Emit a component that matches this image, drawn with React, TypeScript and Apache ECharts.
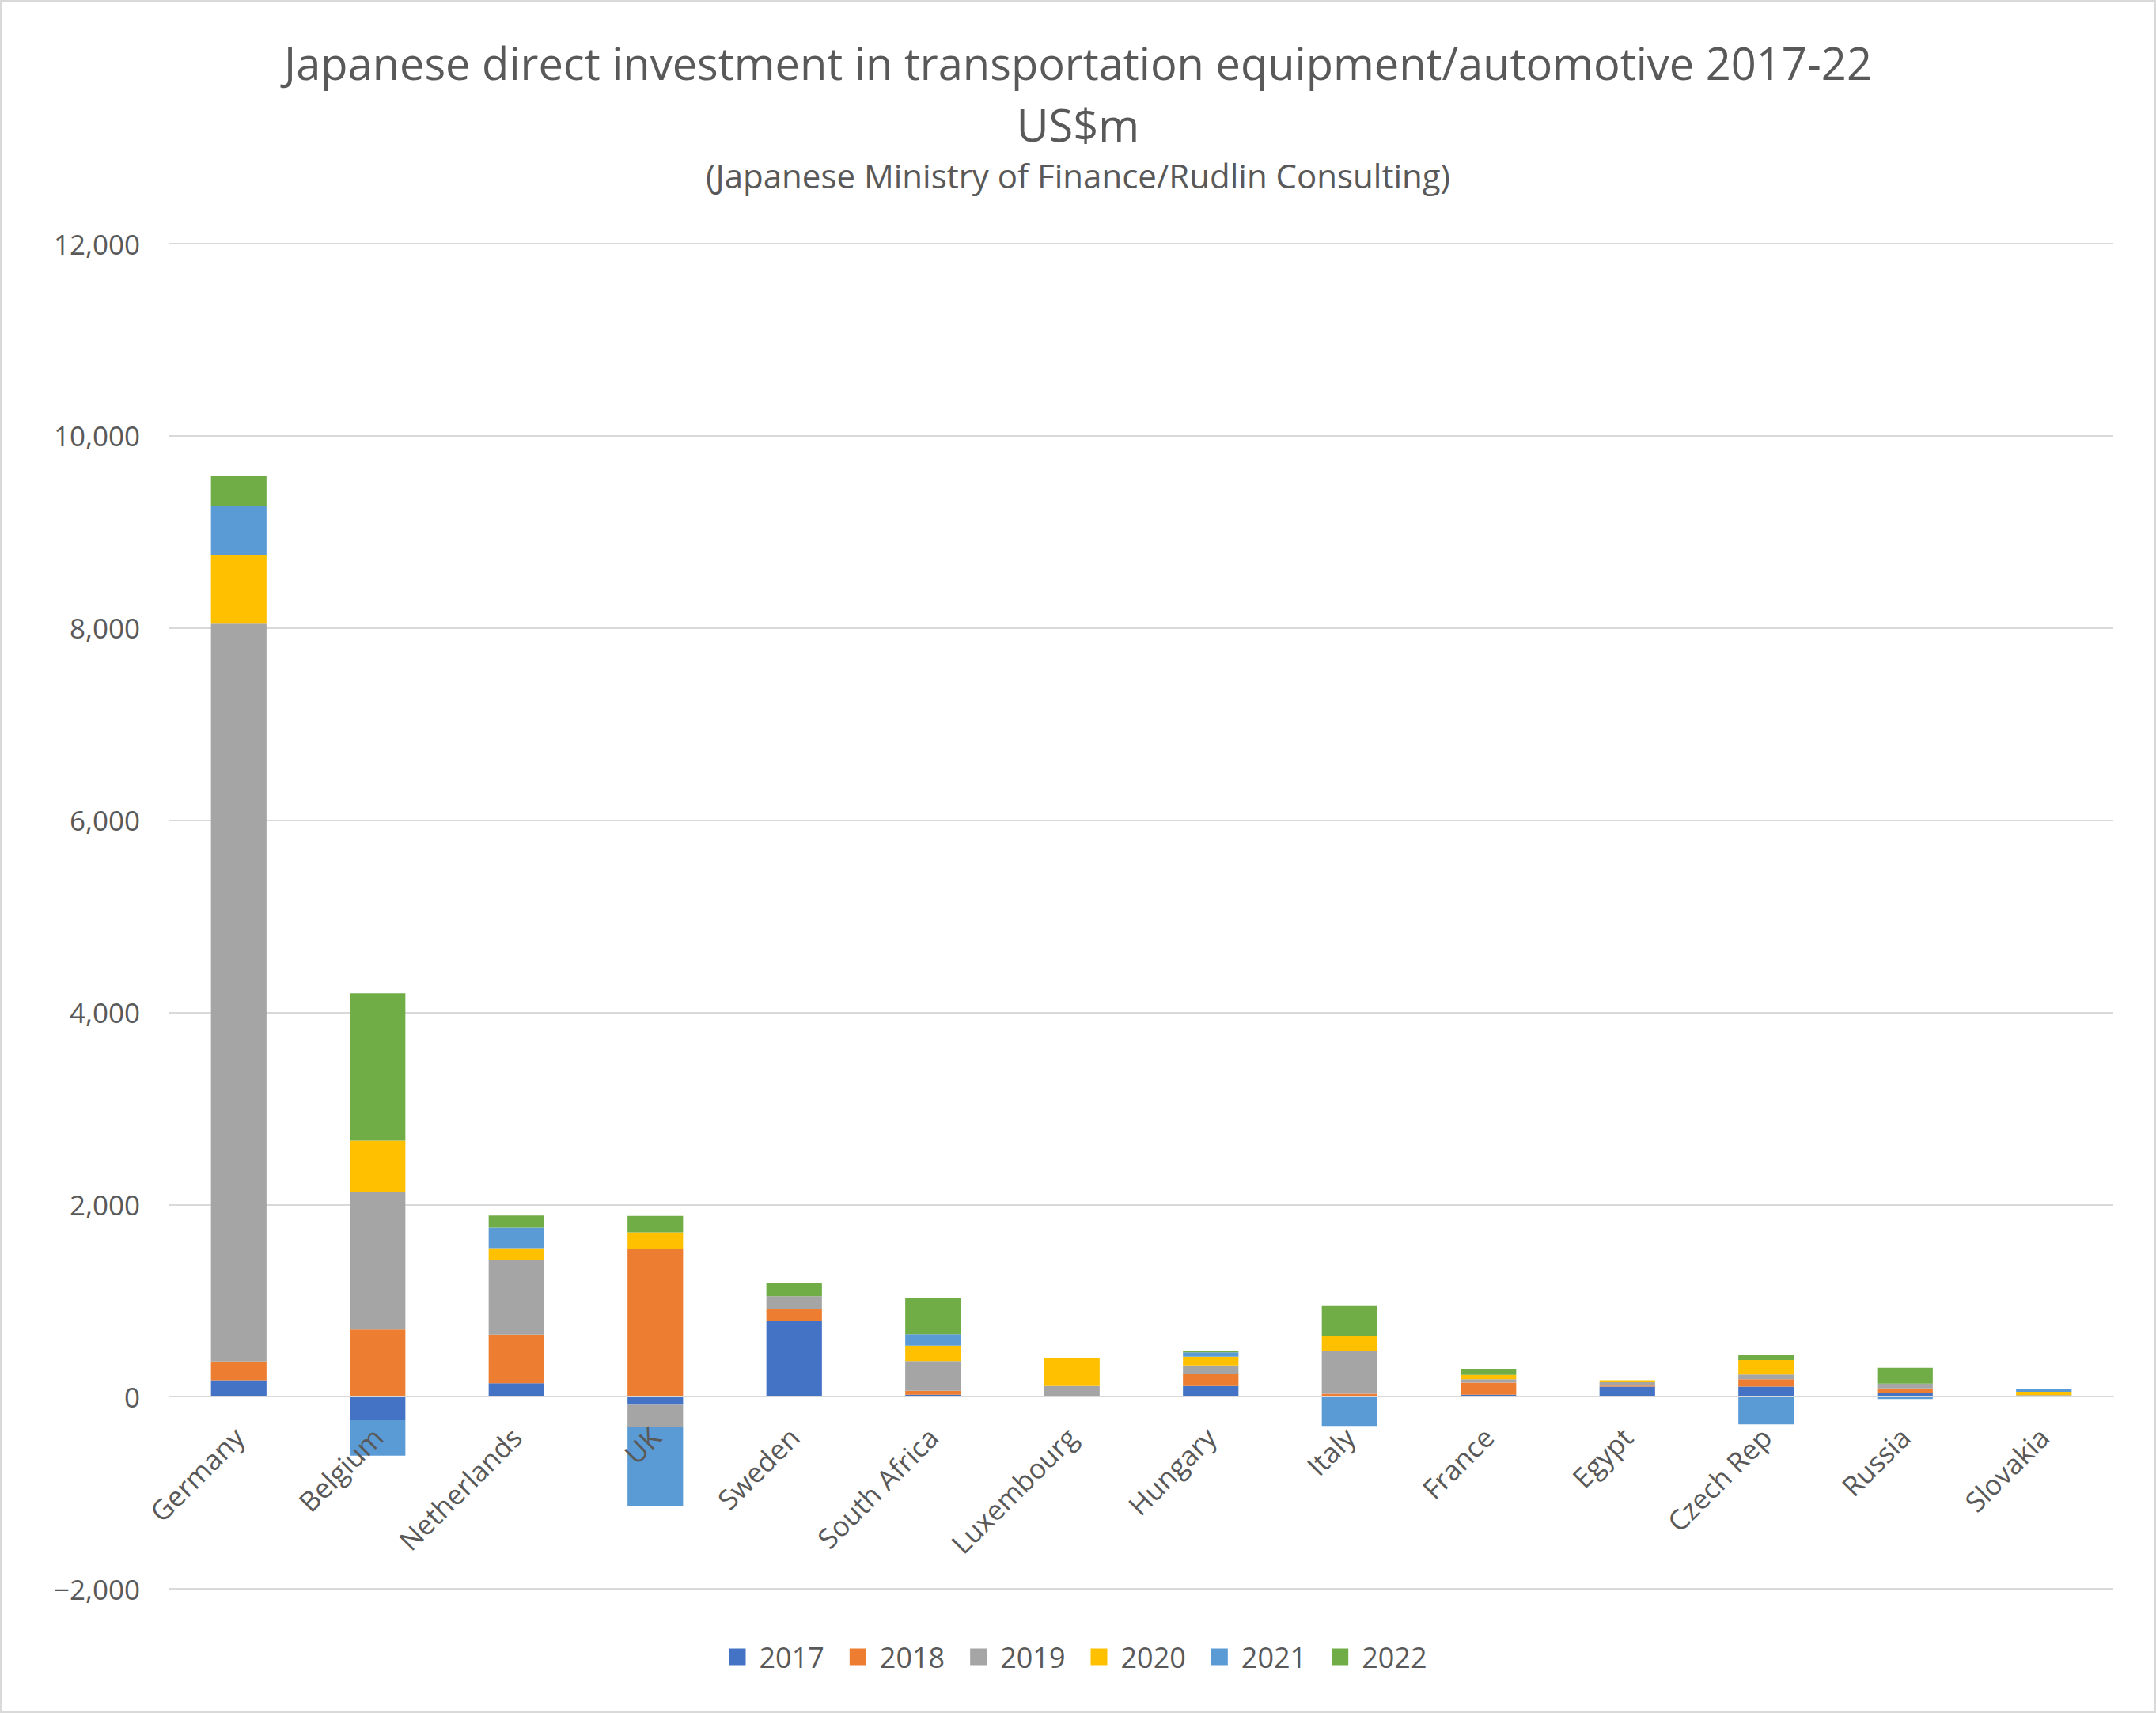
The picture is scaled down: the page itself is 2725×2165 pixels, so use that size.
import { useRef, useEffect } from "react";
import * as echarts from "echarts";

const COUNTRIES = [
  "Germany", "Belgium", "Netherlands", "UK", "Sweden", "South Africa", "Luxembourg",
  "Hungary", "Italy", "France", "Egypt", "Czech Rep", "Russia", "Slovakia",
];

const YEARS = ["2017", "2018", "2019", "2020", "2021", "2022"];

// values per year, one entry per country (US$m)
const V2017 = [170, -245, 140, -85, 785, 20, 0, 110, 0, 20, 105, 105, 35, 5];
const V2018 = [195, 700, 505, 1540, 130, 40, 0, 125, 30, 125, 10, 75, 50, 0];
const V2019 = [7680, 1430, 775, -235, 130, 310, 110, 90, 445, 35, 35, 50, 50, 10];
const V2020 = [710, 535, 125, 170, 0, 160, 295, 90, 160, 45, 20, 150, 0, 35];
const V2021 = [515, -370, 215, -820, 0, 120, 0, 45, -305, 0, 0, -290, -25, 25];
const V2022 = [315, 1535, 125, 170, 140, 380, 0, 15, 315, 65, 0, 50, 165, 0];

const SERIES_VALUES = [V2017, V2018, V2019, V2020, V2021, V2022];
const COLORS = ["#4472C4", "#ED7D31", "#A5A5A5", "#FFC000", "#5B9BD5", "#70AD47"];

const Y_MIN = -2000;
const Y_MAX = 12000;
const Y_STEP = 2000;

const FONT = "'Open Sans', 'Noto Sans', sans-serif";
const INK = "#595959";
const GRID_LINE = "#D9D9D9";

const GRID_TOP = 308;
const GRID_BOTTOM = 157;
const CHART_H = 2165;

function fmtNum(v: number): string {
  const s = Math.abs(v).toLocaleString("en-US");
  return v < 0 ? `\u2212${s}` : s;
}

export default function App() {
  const ref = useRef<HTMLDivElement>(null);

  useEffect(() => {
    document.body.style.margin = "0";
    if (!ref.current) return;
    const chart = echarts.init(ref.current, null, { renderer: "svg" });

    // category axis sits on the zero line, like Excel does
    const plotH = CHART_H - GRID_TOP - GRID_BOTTOM;
    const zeroOffset = -plotH * (0 - Y_MIN) / (Y_MAX - Y_MIN);

    chart.setOption({
      animation: false,
      backgroundColor: "#ffffff",
      textStyle: { fontFamily: FONT },
      title: {
        text: "Japanese direct investment in transportation equipment/automotive 2017-22\nUS$m",
        subtext: "(Japanese Ministry of Finance/Rudlin Consulting)",
        left: "center",
        top: 35,
        itemGap: 0,
        textStyle: { fontFamily: FONT, fontSize: 56, fontWeight: "normal", color: INK, lineHeight: 78 },
        subtextStyle: { fontFamily: FONT, fontSize: 42, color: INK, lineHeight: 50 },
      },
      graphic: [{
        type: "rect",
        shape: { x: 1.5, y: 1.5, width: 2722, height: 2162 },
        style: { fill: "none", stroke: GRID_LINE, lineWidth: 3 },
        silent: true,
      }],
      legend: {
        bottom: 48,
        left: "center",
        itemWidth: 21,
        itemHeight: 21,
        itemGap: 32,
        icon: "rect",
        textStyle: { fontFamily: FONT, fontSize: 36, color: INK, padding: [0, 0, 0, 12] },
        data: YEARS,
      },
      grid: { left: 214, right: 54, top: GRID_TOP, bottom: GRID_BOTTOM, containLabel: false },
      xAxis: {
        type: "category",
        data: COUNTRIES,
        offset: zeroOffset,
        z: 10,
        axisLine: { onZero: false, lineStyle: { color: GRID_LINE, width: 2 } },
        axisTick: { show: false },
        axisLabel: { rotate: 45, interval: 0, fontSize: 35, color: INK, margin: 45, fontFamily: FONT },
      },
      yAxis: {
        type: "value",
        min: Y_MIN,
        max: Y_MAX,
        interval: Y_STEP,
        axisLine: { show: false },
        axisTick: { show: false },
        splitLine: { lineStyle: { color: GRID_LINE, width: 2 } },
        axisLabel: { fontSize: 35, color: INK, margin: 37, fontFamily: FONT, formatter: fmtNum },
      },
      series: YEARS.map((y, i) => ({
        name: y,
        type: "bar",
        stack: "total",
        barWidth: "40%",
        z: 2,
        itemStyle: { color: COLORS[i] },
        data: SERIES_VALUES[i],
      })),
    });

    return () => chart.dispose();
  }, []);

  return <div ref={ref} style={{ width: 2725, height: 2165 }} />;
}
